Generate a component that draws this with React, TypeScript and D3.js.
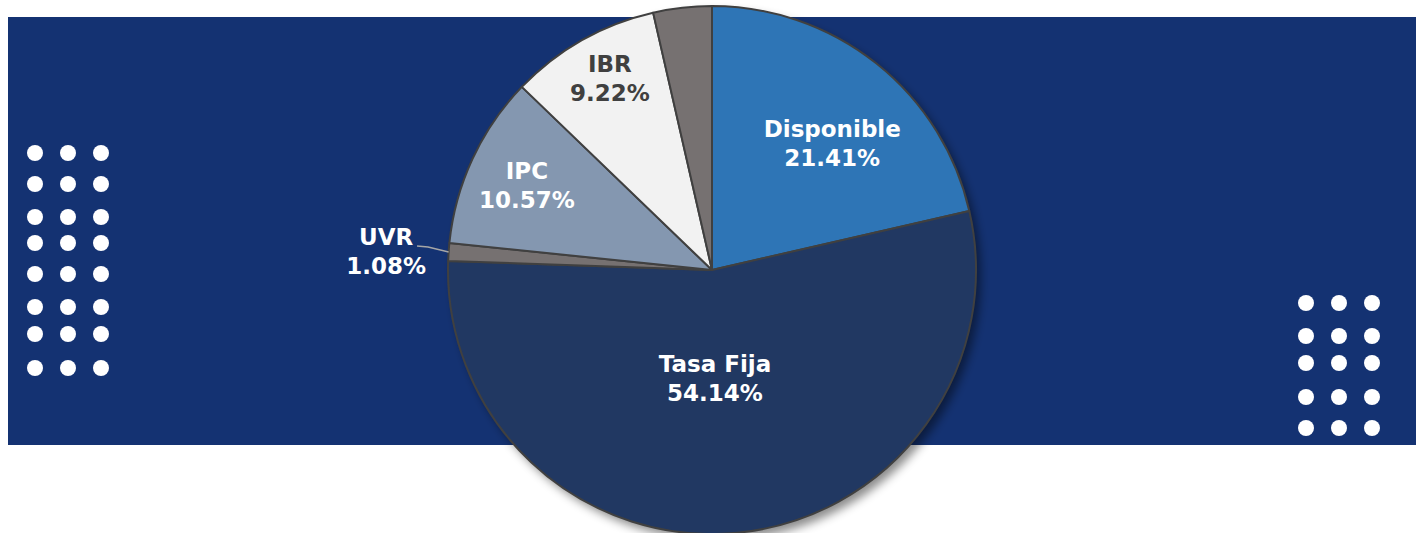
import React, { useEffect, useRef } from 'react';
import * as d3 from 'd3';

const categories = ['Disponible', 'Tasa Fija', 'UVR', 'IPC', 'IBR', 'Otros'];
const shares = [21.41, 54.14, 1.08, 10.57, 9.22, 3.58];
const colors = ['#2E75B6', '#213862', '#767171', '#8497B0', '#F2F2F2', '#767171'];
const labelColors = ['#FFFFFF', '#FFFFFF', '#FFFFFF', '#FFFFFF', '#404040', null];
const leftDots = [153, 184, 217, 243, 274, 307, 334, 368];
const rightDots = [303, 336, 363, 397, 428];

const W = 1416;
const H = 533;

export default function App() {
  const ref = useRef<SVGSVGElement | null>(null);

  useEffect(() => {
    const svg = d3.select(ref.current);
    svg.selectAll('*').remove();

    const defs = svg.append('defs');
    const f = defs.append('filter').attr('id', 'shadow')
      .attr('x', '-10%').attr('y', '-10%').attr('width', '130%').attr('height', '130%');
    f.append('feDropShadow')
      .attr('dx', 5).attr('dy', 6).attr('stdDeviation', 5)
      .attr('flood-color', '#000').attr('flood-opacity', 0.45);

    // banner
    svg.append('rect')
      .attr('x', 8).attr('y', 17).attr('width', W - 8).attr('height', 428)
      .attr('fill', '#143272');

    const dotX1 = [35, 68, 101];
    const dotX2 = [1306, 1339, 1372];
    const dots: [number, number][] = [];
    leftDots.forEach(y => dotX1.forEach(x => dots.push([x, y])));
    rightDots.forEach(y => dotX2.forEach(x => dots.push([x, y])));
    svg.selectAll('circle.dot')
      .data(dots)
      .enter()
      .append('circle')
      .attr('class', 'dot')
      .attr('cx', d => d[0])
      .attr('cy', d => d[1])
      .attr('r', 8)
      .attr('fill', '#fff');

    const cx = 712;
    const cy = 270;
    const r = 264;

    const pie = d3.pie<number>().sort(null).value(d => d);
    const arcs = pie(shares);
    const arc = d3.arc<d3.PieArcDatum<number>>().innerRadius(0).outerRadius(r);

    const g = svg.append('g').attr('transform', `translate(${cx},${cy})`);
    g.append('circle').attr('r', r).attr('fill', '#213862').attr('filter', 'url(#shadow)');

    g.selectAll('path.slice')
      .data(arcs)
      .enter()
      .append('path')
      .attr('class', 'slice')
      .attr('d', d => arc(d) as string)
      .attr('fill', (d, i) => colors[i])
      .attr('stroke', '#404040')
      .attr('stroke-width', 2)
      .attr('stroke-linejoin', 'round');

    // label radius (fraction of r) and angle nudge (degrees), per slice
    const labelFrac = [0.665, 0.405, 1.237, 0.773, 0.827, 0];
    const labelNudge = [4.7, 3.9, -0.4, 0, 1.6, 0];

    arcs.forEach((d, i) => {
      if (!labelColors[i]) return;
      const a = (d.startAngle + d.endAngle) / 2 + (labelNudge[i] * Math.PI) / 180;
      const lr = r * labelFrac[i];
      const x = Math.sin(a) * lr;
      const y = -Math.cos(a) * lr;
      if (i === 2) {
        const m = (d.startAngle + d.endAngle) / 2;
        const ex = Math.sin(m) * r;
        const ey = -Math.cos(m) * r;
        g.append('polyline')
          .attr('points', `${x + 31},${y - 4} ${x + 42},${y - 3} ${ex},${ey}`)
          .attr('fill', 'none')
          .attr('stroke', '#A6A6A6')
          .attr('stroke-width', 1.5);
      }
      const t = g.append('text')
        .attr('x', x)
        .attr('y', y)
        .attr('text-anchor', 'middle')
        .attr('fill', labelColors[i] as string)
        .attr('font-family', 'DejaVu Sans, Verdana, sans-serif')
        .attr('font-weight', 'bold')
        .attr('font-size', 23);
      t.append('tspan').attr('x', x).attr('dy', -5).text(categories[i]);
      t.append('tspan').attr('x', x).attr('dy', 29).text(shares[i].toFixed(2) + '%');
    });
  }, []);

  return (
    <div style={{ position: 'absolute', left: 0, top: 0 }}>
      <svg ref={ref} width={W} height={H} style={{ display: 'block' }} />
    </div>
  );
}
